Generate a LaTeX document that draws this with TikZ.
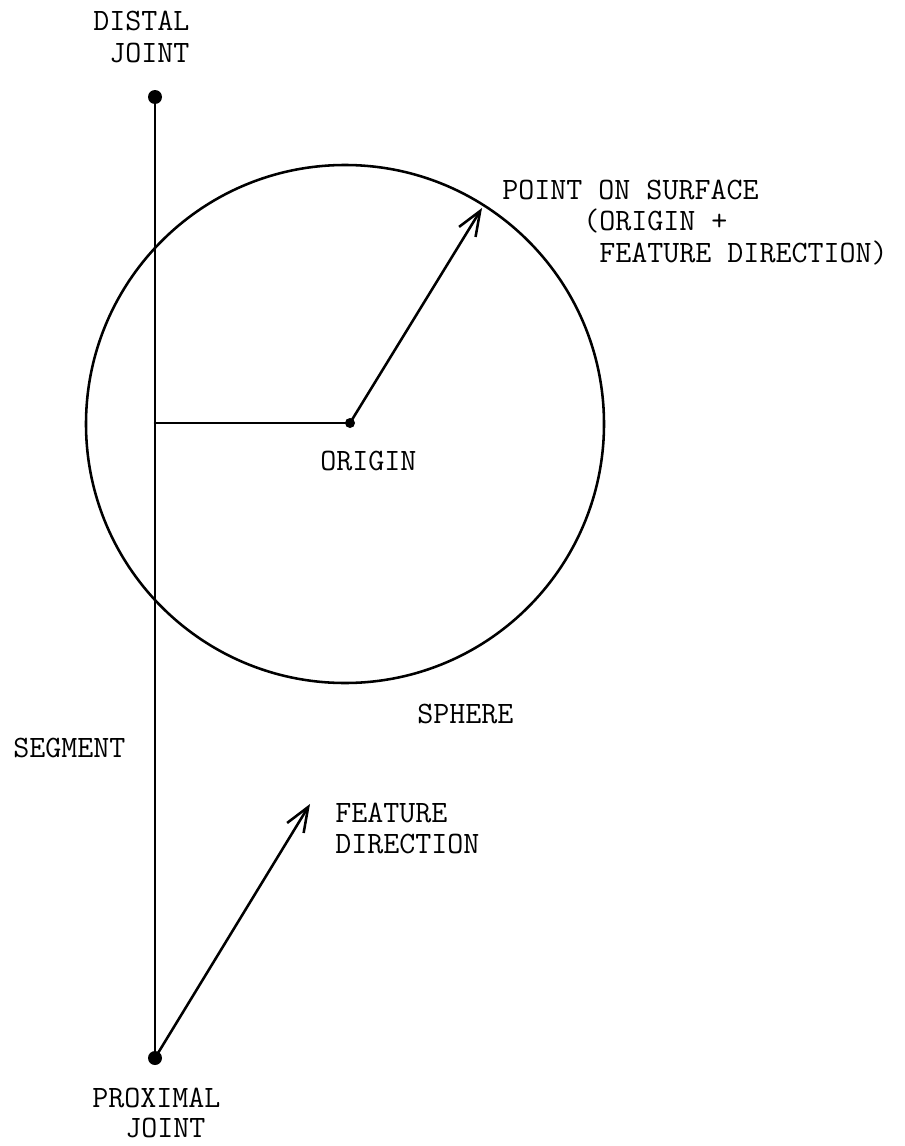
\documentclass[tikz,border=0pt]{standalone}
\usepackage{fontspec}
\usetikzlibrary{arrows.meta}
\tikzset{
  lbl/.style={anchor=base west, inner sep=0pt, font=\fontsize{17.7}{31}\selectfont\ttfamily},
  stroke/.style={line width=1.45pt, line cap=round, line join=round},
  barb/.style={stroke, -{Straight Barb[length=14pt,width=11pt,line width=1.45pt]}},
  dotmark/.style={circle, fill=black, inner sep=0pt},
}
\begin{document}
\begin{tikzpicture}[x=0.02cm,y=-0.02cm]
\useasboundingbox (0,0) rectangle (904,1146);
% points
\node[dotmark, minimum size=14*0.02cm] (distal) at (155,97) {};
\node[dotmark, minimum size=14*0.02cm] (proximal) at (155,1058) {};
\node[dotmark, minimum size=10*0.02cm] (origin) at (350,423) {};
\coordinate (foot) at (155,423);
\coordinate (surf) at (482,208);
\coordinate (fdtip) at (310,804);
\coordinate (sphc) at (345,424);
% sphere
\draw[stroke] (sphc) circle[radius=259];
% segment
\draw[stroke] (distal.center) -- (proximal.center);
\draw[stroke] (foot) -- (origin.center);
% arrows
\draw[barb] (origin.center) -- (surf);
\draw[barb] (proximal.center) -- (fdtip);
% labels
\node[lbl] (t1) at (93,31) {DISTAL};
\node[lbl] (t2) at (109,62) {JOINT};
\node[lbl] (t3) at (502,199) {POINT ON SURFACE};
\node[lbl] (t4) at (583,230) {(ORIGIN +};
\node[lbl] (t5) at (599,262) {FEATURE DIRECTION)};
\node[lbl] (t6) at (320,470) {ORIGIN};
\node[lbl] (t7) at (417,723) {SPHERE};
\node[lbl] (t8) at (13,757) {SEGMENT};
\node[lbl] (t9) at (335,822) {FEATURE};
\node[lbl] (t10) at (335,853) {DIRECTION};
\node[lbl] (t11) at (92,1107) {PROXIMAL};
\node[lbl] (t12) at (125,1137) {JOINT};
\end{tikzpicture}
\end{document}
